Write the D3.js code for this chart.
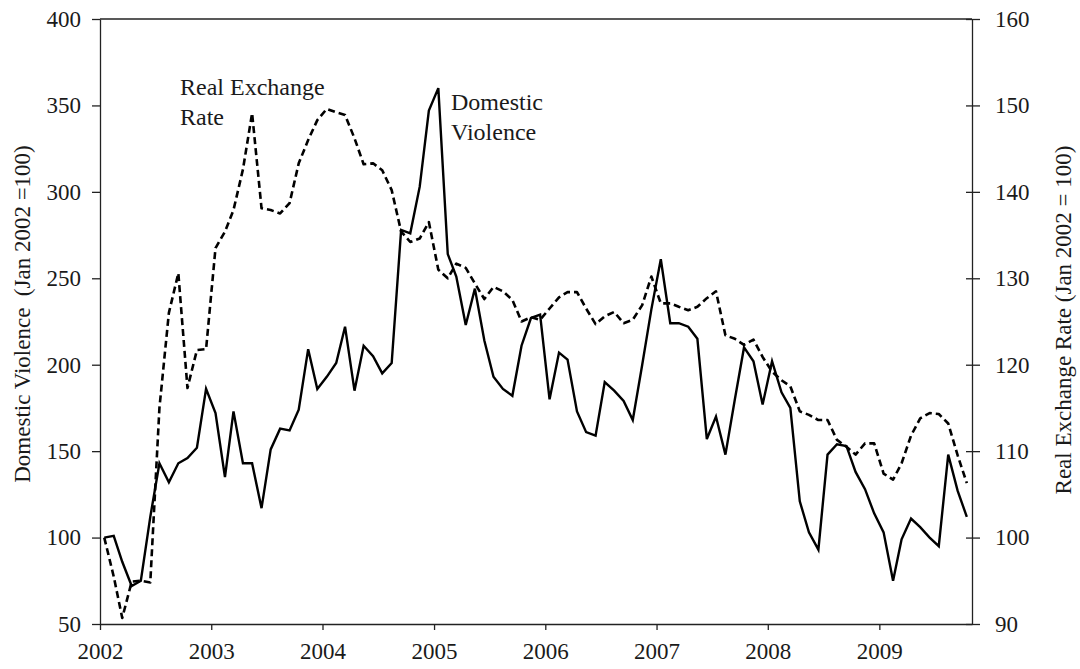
<!DOCTYPE html>
<html>
<head>
<meta charset="utf-8">
<script src="https://cdn.jsdelivr.net/npm/d3@7"></script>
<style>
  html, body { margin: 0; padding: 0; background: #fff; }
  svg { display: block; }
  text { font-family: "Liberation Serif", "Times New Roman", serif; fill: #1a1a1a; }
</style>
</head>
<body>
<svg id="chart" width="1080" height="669"></svg>
<script>
// Monthly series, Jan 2002 to Oct 2009 (index 2002 Jan = 100)
const startMonth = new Date(2002, 0, 1);
const monthCount = 94;

const domesticViolence = [
  100, 101, 86, 72, 75, 112, 143, 132, 143, 146, 152, 186,
  172, 135, 173, 143, 143, 117, 151, 163, 162, 174, 209, 186,
  193, 201, 222, 185, 211, 205, 195, 201, 278, 276, 303, 347,
  360, 264, 251, 223, 244, 214, 193, 186, 182, 211, 227, 229,
  180, 207, 203, 173, 161, 159, 190, 185, 179, 168, 200, 232,
  261, 224, 224, 222, 215, 157, 170, 148, 180, 210, 202, 177,
  202, 184, 175, 121, 103, 93, 148, 154, 153, 138, 128, 114,
  103, 75, 99, 111, 106, 100, 95, 148, 127, 112
];

const realExchangeRate = [
  100, 95.5, 90.7, 94.9, 95.0, 94.8, 115, 126, 130.6, 117.3, 121.7, 121.8,
  133.5, 135.4, 137.9, 142.6, 149.1, 138.1, 137.9, 137.5, 138.7, 143.3, 146, 148.3,
  149.6, 149.2, 148.9, 146.2, 143.2, 143.3, 142.5, 140.2, 135.4, 134.2, 134.6, 136.5,
  131, 130, 131.7, 131.2, 129.4, 127.6, 129, 128.5, 127.5, 125, 125.5, 125.2,
  126.5, 127.8, 128.4, 128.4, 126.5, 124.7, 125.6, 126.1, 124.8, 125.2, 126.9, 130.2,
  127.1, 127.1, 126.7, 126.3, 126.7, 127.7, 128.5, 123.4, 123, 122.3, 122.9, 120.9,
  119.2, 118.2, 117.5, 114.6, 114.2, 113.6, 113.6, 111.3, 110.5, 109.6, 110.9, 110.9,
  107.4, 106.7, 108.6, 111.8, 113.8, 114.4, 114.3, 113.2, 109.5, 106.3
];

const leftTicks = [50, 100, 150, 200, 250, 300, 350, 400];
const rightTicks = [90, 100, 110, 120, 130, 140, 150, 160];
const yearTicks = [2002, 2003, 2004, 2005, 2006, 2007, 2008, 2009];

const leftTitle = "Domestic Violence  (Jan 2002 =100)";
const rightTitle = "Real Exchange Rate (Jan 2002 = 100)";

// Each observation sits in the middle of its month
const months = d3.range(monthCount).map(i => new Date(2002, i, 15));

const plot = { left: 100, right: 972, top: 19, bottom: 624 };
const svg = d3.select("#chart");

const x = d3.scaleTime()
  .domain([startMonth, new Date(2002, monthCount, 1)])
  .range([plot.left, plot.right]);
const yLeft = d3.scaleLinear().domain([50, 400]).range([plot.bottom, plot.top]);
const yRight = d3.scaleLinear().domain([90, 160]).range([plot.bottom, plot.top]);

const FS = 23;       // tick labels and axis titles
const LABEL_FS = 24; // series labels inside the plot

// Top frame line
svg.append("line")
  .attr("x1", plot.left).attr("x2", plot.right)
  .attr("y1", plot.top).attr("y2", plot.top)
  .attr("stroke", "#222").attr("stroke-width", 1.3);

// Left axis
const gL = svg.append("g")
  .attr("transform", `translate(${plot.left},0)`)
  .call(d3.axisLeft(yLeft).tickValues(leftTicks).tickSize(8).tickSizeOuter(0).tickPadding(11));

// Right axis, ticks cross the axis line
const gR = svg.append("g")
  .attr("transform", `translate(${plot.right},0)`)
  .call(d3.axisRight(yRight).tickValues(rightTicks).tickSize(8).tickSizeOuter(0).tickPadding(15));
gR.selectAll(".tick line").attr("x1", -6).attr("x2", 8);

// Bottom axis
const gB = svg.append("g")
  .attr("transform", `translate(0,${plot.bottom})`)
  .call(d3.axisBottom(x)
    .tickValues(yearTicks.map(yr => new Date(yr, 0, 1)))
    .tickFormat(d3.timeFormat("%Y"))
    .tickSize(6).tickSizeOuter(0).tickPadding(13));

[gL, gR, gB].forEach(g => {
  g.select(".domain").attr("stroke", "#222").attr("stroke-width", 1.3);
  g.selectAll(".tick line").attr("stroke", "#222").attr("stroke-width", 1.3);
  g.selectAll(".tick text")
    .style("font-family", '"Liberation Serif", "Times New Roman", serif')
    .style("font-size", FS + "px")
    .attr("fill", "#1a1a1a");
});

// Axis titles
svg.append("text")
  .attr("transform", "translate(22,314) rotate(-90)")
  .attr("text-anchor", "middle")
  .attr("dominant-baseline", "central")
  .style("font-size", FS + "px")
  .style("white-space", "pre")
  .text(leftTitle);

svg.append("text")
  .attr("transform", "translate(1063,320) rotate(-90)")
  .attr("text-anchor", "middle")
  .attr("dominant-baseline", "central")
  .style("font-size", FS + "px")
  .text(rightTitle);

// Series lines
const rerLine = d3.line()
  .x((d, i) => x(months[i]))
  .y(d => yRight(d));
const dvLine = d3.line()
  .x((d, i) => x(months[i]))
  .y(d => yLeft(d));

svg.append("path")
  .datum(realExchangeRate)
  .attr("d", rerLine)
  .attr("fill", "none")
  .attr("stroke", "#000")
  .attr("stroke-width", 2.6)
  .attr("stroke-dasharray", "7,4")
  .attr("stroke-linejoin", "round");

svg.append("path")
  .datum(domesticViolence)
  .attr("d", dvLine)
  .attr("fill", "none")
  .attr("stroke", "#000")
  .attr("stroke-width", 2.4)
  .attr("stroke-linejoin", "miter");

// In-plot series labels
const labels = [
  { lines: ["Real Exchange", "Rate"], x: 180, y: 95 },
  { lines: ["Domestic", "Violence"], x: 451, y: 110 }
];
labels.forEach(l => {
  const t = svg.append("text")
    .attr("x", l.x).attr("y", l.y)
    .style("font-size", LABEL_FS + "px");
  l.lines.forEach((s, k) => {
    t.append("tspan").attr("x", l.x).attr("dy", k === 0 ? 0 : 30).text(s);
  });
});
</script>
</body>
</html>
